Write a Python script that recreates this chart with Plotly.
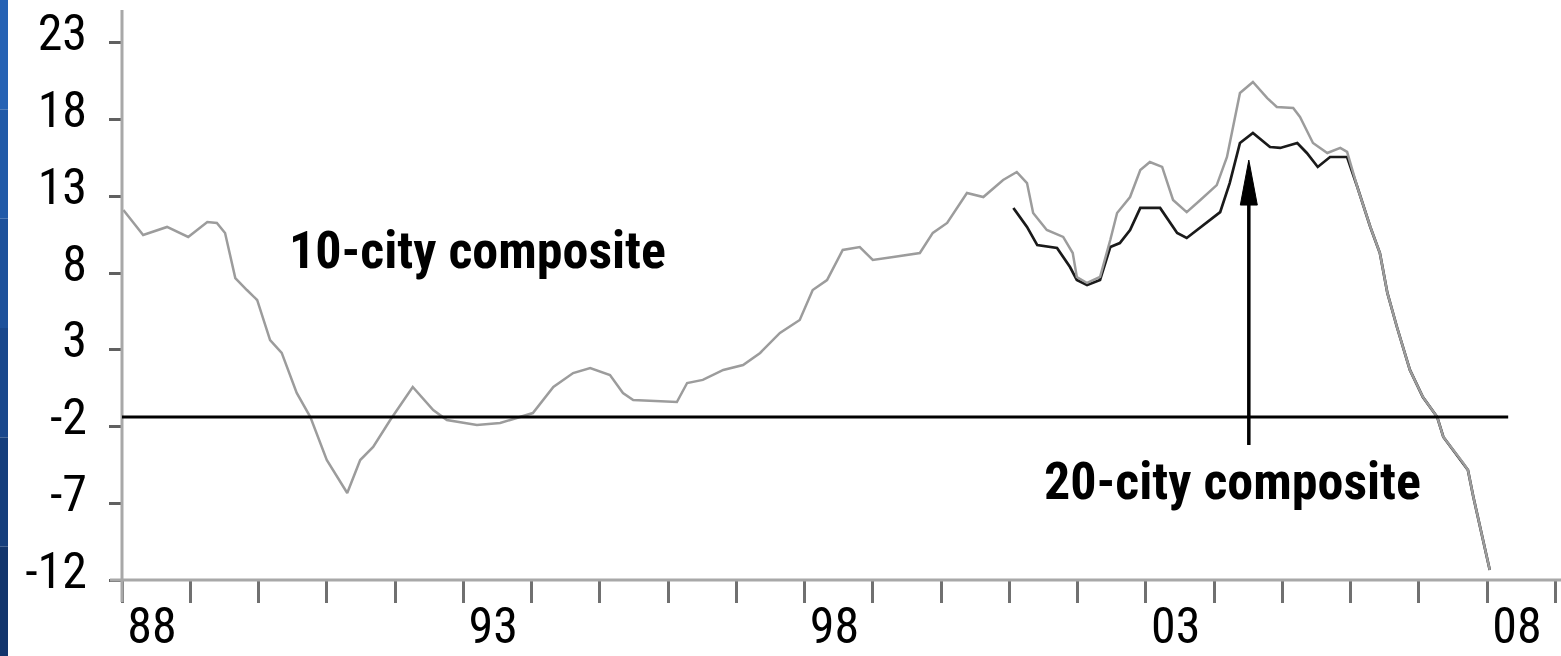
import plotly.graph_objects as go

# ---- data ----
years_10 = [1987.58, 1987.87, 1988.22, 1988.53, 1988.81, 1988.95, 1989.07, 1989.22, 1989.39, 1989.54,
            1989.73, 1989.90, 1990.12, 1990.32, 1990.56, 1990.86, 1991.05, 1991.24, 1991.49, 1991.82,
            1992.12, 1992.32, 1992.76, 1993.10, 1993.58, 1993.88, 1994.17, 1994.42, 1994.71, 1994.90,
            1995.05, 1995.69, 1995.84, 1996.07, 1996.37, 1996.66, 1996.91, 1997.20, 1997.49, 1997.68,
            1997.89, 1998.12, 1998.37, 1998.56, 1998.86, 1999.25, 1999.44, 1999.65, 1999.94, 2000.18,
            2000.47, 2000.67, 2000.82, 2000.91, 2001.11, 2001.35, 2001.49, 2001.55, 2001.70, 2001.89,
            2002.04, 2002.14, 2002.33, 2002.48, 2002.62, 2002.80, 2002.96, 2003.16, 2003.36, 2003.60,
            2003.75, 2003.84, 2003.94, 2004.13, 2004.34, 2004.48, 2004.72, 2004.82, 2005.01, 2005.22,
            2005.41, 2005.51, 2005.66, 2005.85, 2005.99, 2006.10, 2006.24, 2006.43, 2006.62, 2006.83,
            2006.92, 2007.21, 2007.28, 2007.36, 2007.50, 2007.60]
city10 = [12.12, 10.49, 11.01, 10.36, 11.33, 11.27, 10.62, 7.68, 6.90, 6.25,
          3.64, 2.80, 0.19, -1.38, -4.18, -6.33, -4.18, -3.33, -1.57, 0.58,
          -0.92, -1.57, -1.90, -1.77, -1.12, 0.58, 1.49, 1.82, 1.36, 0.19,
          -0.27, -0.40, 0.84, 1.04, 1.69, 2.01, 2.80, 4.10, 4.95, 6.90,
          7.55, 9.51, 9.70, 8.86, 9.05, 9.31, 10.62, 11.27, 13.22, 12.96,
          14.07, 14.59, 13.87, 11.92, 10.81, 10.36, 9.31, 7.75, 7.36, 7.75,
          10.16, 11.92, 12.96, 14.72, 15.24, 14.92, 12.77, 11.98, 12.77, 13.74,
          15.57, 17.52, 19.74, 20.46, 19.41, 18.83, 18.76, 18.18, 16.48, 15.83,
          16.16, 15.90, 13.61, 11.01, 9.31, 6.71, 4.49, 1.69, -0.07, -1.38,
          -2.68, -4.37, -4.83, -6.59, -9.39, -11.35]

years_20 = [2000.62, 2000.82, 2000.97, 2001.26, 2001.45, 2001.55, 2001.70, 2001.89, 2002.04, 2002.18,
            2002.33, 2002.48, 2002.77, 2003.02, 2003.16, 2003.31, 2003.65, 2003.79, 2003.94, 2004.13,
            2004.38, 2004.53, 2004.78, 2004.92, 2005.08, 2005.26, 2005.51, 2005.66, 2005.85, 2005.99,
            2006.10, 2006.24, 2006.43, 2006.62, 2006.83, 2006.92, 2007.21, 2007.28, 2007.36, 2007.50,
            2007.60]
city20 = [12.25, 11.01, 9.83, 9.64, 8.40, 7.55, 7.23, 7.55, 9.70, 9.96,
          10.81, 12.25, 12.25, 10.62, 10.29, 10.81, 11.98, 13.87, 16.48, 17.13,
          16.22, 16.16, 16.48, 15.83, 14.92, 15.57, 15.57, 13.61, 11.01, 9.31,
          6.71, 4.49, 1.69, -0.07, -1.38, -2.68, -4.37, -4.83, -6.59, -9.39,
          -11.35]

y_ticks = [-12, -7, -2, 3, 8, 13, 18, 23]
y_tick_labels = ["-12", "-7", "-2", "3", "8", "13", "18", "23"]
x_label_years = [1988, 1993, 1998, 2003, 2008]
x_tick_labels = ["88", "93", "98", "03", "08"]
x_minor_ticks = [1987.56 + k for k in range(22)]
ref_line_value = -1.38
ref_line_end = 2007.87
arrow_year = 2004.07
arrow_from, arrow_to = -3.2, 15.37

X_RANGE = [1987.56, 2008.60]
Y_RANGE = [-12, 25.15]

W, H = 1561, 656
ML, MR, MT, MB = 122, 3, 10, 76
PW, PH = W - ML - MR, H - MT - MB
PX_PER_YEAR = PW / (X_RANGE[1] - X_RANGE[0])
PX_PER_UNIT = PH / (Y_RANGE[1] - Y_RANGE[0])

NARROW = "Liberation Sans Narrow, Arial Narrow, Roboto Condensed, DejaVu Sans Condensed, sans-serif"

fig = go.Figure()
fig.add_trace(go.Scatter(x=years_20, y=city20, mode="lines",
                         line=dict(color="#1a1a1a", width=2.7), name="20-city composite",
                         hoverinfo="skip"))
fig.add_trace(go.Scatter(x=years_10, y=city10, mode="lines",
                         line=dict(color="#9c9c9c", width=2.5), name="10-city composite",
                         hoverinfo="skip"))

shapes = []
# blue strip at left edge (stepped gradient, lighter at top)
blues = ["#2662b4", "#215aa8", "#1d519b", "#19478c", "#153e7c", "#12356c"]
n = len(blues)
for i, c in enumerate(blues):
    y1 = 1 + MT / PH - i * (1 + (MT + MB) / PH) / n
    y0 = 1 + MT / PH - (i + 1) * (1 + (MT + MB) / PH) / n
    shapes.append(dict(type="rect", xref="paper", yref="paper", x0=-ML / PW, x1=(8 - ML) / PW,
                       y0=y0, y1=y1, fillcolor=c, line=dict(width=0), layer="above"))

# arrow: narrow, long head (17 px wide, 45 px long)
head_half_w = 8.5 / PX_PER_YEAR
head_len = 45 / PX_PER_UNIT
head_base = arrow_to - head_len
shapes += [
    # x axis line
    dict(type="line", xref="paper", yref="paper", x0=-12 / PW, x1=1 + MR / PW, y0=0, y1=0,
         line=dict(color="#a8a8a8", width=3)),
    # y axis line
    dict(type="line", xref="paper", yref="paper", x0=0, x1=0, y0=-22 / PH, y1=1,
         line=dict(color="#a8a8a8", width=3)),
    # horizontal reference line
    dict(type="line", xref="x", yref="y", x0=X_RANGE[0], x1=ref_line_end,
         y0=ref_line_value, y1=ref_line_value, line=dict(color="black", width=3)),
    # arrow shaft
    dict(type="line", xref="x", yref="y", x0=arrow_year, x1=arrow_year,
         y0=arrow_from, y1=head_base + 0.3, line=dict(color="black", width=3.5)),
    # arrow head
    dict(type="path", xref="x", yref="y",
         path=f"M {arrow_year - head_half_w},{head_base} L {arrow_year + head_half_w},{head_base} "
              f"L {arrow_year},{arrow_to} Z",
         fillcolor="black", line=dict(color="black", width=1)),
]

annotations = [
    dict(x=1989.98, y=9.5, xref="x", yref="y", text="<b>10-city composite</b>", showarrow=False,
         xanchor="left", yanchor="middle", font=dict(family=NARROW, size=52, color="black")),
    dict(x=2001.04, y=-5.6, xref="x", yref="y", text="<b>20-city composite</b>", showarrow=False,
         xanchor="left", yanchor="middle", font=dict(family=NARROW, size=52, color="black")),
]

fig.update_layout(
    width=W, height=H,
    margin=dict(l=ML, r=MR, t=MT, b=MB, pad=0),
    paper_bgcolor="white", plot_bgcolor="white",
    showlegend=False,
    shapes=shapes, annotations=annotations,
    xaxis=dict(range=X_RANGE, showgrid=False, zeroline=False, showline=False, automargin=False,
               tickmode="array", tickvals=x_label_years, ticktext=x_tick_labels,
               ticks="outside", ticklen=14, tickcolor="rgba(0,0,0,0)", tickwidth=1,
               ticklabelstandoff=-12,
               tickfont=dict(family=NARROW, size=50, color="black")),
    yaxis=dict(range=Y_RANGE, showgrid=False, zeroline=False, showline=False, automargin=False,
               tickmode="array", tickvals=y_ticks, ticktext=y_tick_labels,
               ticks="outside", ticklen=12, tickwidth=3, tickcolor="#606060",
               ticklabelstandoff=12, ticklabelshift=-10,
               tickfont=dict(family=NARROW, size=50, color="black")),
)
fig.update_xaxes(minor=dict(tickmode="array", tickvals=x_minor_ticks, ticks="outside",
                            ticklen=22, tickwidth=3, tickcolor="#707070", showgrid=False))

fig.write_html("out.html", config={"displayModeBar": False},
               post_script="document.body.style.margin='0px';document.body.style.overflow='hidden';")
